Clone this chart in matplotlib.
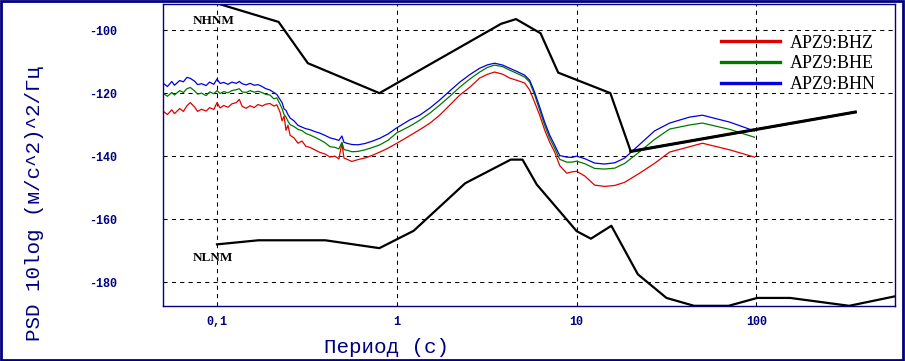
"""
PSD of APZ9 station channels against the Peterson noise models.
"""
import matplotlib
matplotlib.use('Agg')
import matplotlib.pyplot as plt
from matplotlib.patches import Rectangle

plt.rcParams['axes.unicode_minus'] = False
navy = '#000080'

# --- Peterson noise models (period s, dB) ---
nhnmPeriod = [0.1, 0.22, 0.32, 0.8, 3.8, 4.6, 6.3, 7.9, 15.4, 20.0, 354.8]
nhnmDb = [-91.5, -97.4, -110.5, -120.0, -98.0, -96.5, -101.0, -113.5, -120.0, -138.5, -126.0]

nlnmPeriod = [0.1, 0.17, 0.4, 0.8, 1.24, 2.4, 4.3, 5.0, 6.0, 10.0, 12.0, 15.6,
              21.9, 31.6, 45.0, 70.0, 101.0, 154.0, 328.0, 600.0]
nlnmDb = [-168.0, -166.7, -166.7, -169.2, -163.7, -148.6, -141.1, -141.1, -149.0, -163.8,
          -166.2, -162.1, -177.5, -185.0, -187.5, -187.5, -185.0, -185.0, -187.5, -184.4]

# --- Station PSD curves (period s, dB) ---
period = [0.050, 0.053, 0.056, 0.058, 0.062, 0.065, 0.068, 0.071, 0.075, 0.078,
          0.082, 0.087, 0.091, 0.096, 0.100, 0.104, 0.109, 0.115, 0.121, 0.128,
          0.133, 0.138, 0.145, 0.153, 0.161, 0.169, 0.178, 0.187, 0.197, 0.207,
          0.215, 0.224, 0.230, 0.236, 0.242, 0.248, 0.255, 0.268, 0.282, 0.297,
          0.312, 0.329, 0.350, 0.373, 0.398, 0.425, 0.453, 0.476, 0.495, 0.508,
          0.534, 0.562, 0.607, 0.664, 0.726, 0.805, 0.891, 1.00, 1.18, 1.34,
          1.53, 1.73, 1.97, 2.24, 2.55, 2.89, 3.20, 3.50, 3.88, 4.24,
          4.69, 5.14, 5.48, 5.84, 6.23, 6.64, 7.08, 7.55, 8.05, 8.80,
          9.40, 10.0, 11.1, 12.6, 14.3, 16.3, 18.5, 22.4, 27.1, 32.9,
          42.5, 50.1, 71.0, 97.5]

bhz = [-125.7, -126.8, -125.3, -126.5, -124.9, -125.8, -124.0, -123.0, -124.4, -125.8,
       -125.1, -125.7, -124.6, -125.2, -123.0, -124.7, -123.9, -124.5, -123.4, -123.0,
       -122.0, -124.2, -124.8, -124.0, -124.6, -123.6, -124.1, -123.5, -123.3, -124.1,
       -123.7, -126.0, -128.8, -127.3, -131.8, -130.2, -133.4, -134.2, -135.9, -135.2,
       -136.9, -137.2, -138.0, -138.8, -139.3, -140.3, -140.0, -140.9, -135.9, -140.6,
       -141.1, -141.7, -141.1, -140.6, -139.8, -138.7, -137.5, -135.9, -133.5, -131.6,
       -129.5, -127.0, -123.8, -120.6, -118.1, -115.2, -114.0, -113.3, -114.0, -115.2,
       -116.0, -116.8, -119.0, -122.9, -127.0, -131.7, -135.6, -138.7, -143.0, -145.4,
       -145.0, -144.8, -146.3, -149.2, -149.6, -149.3, -148.3, -145.4, -142.3, -138.7,
       -137.0, -135.9, -138.0, -140.3]

bhe = [-120.0, -121.0, -119.8, -120.6, -119.2, -119.8, -118.6, -118.2, -119.3, -120.3,
       -120.0, -120.8, -119.6, -120.2, -119.2, -120.1, -119.5, -119.9, -119.2, -118.9,
       -118.6, -119.6, -119.8, -119.2, -119.7, -119.4, -119.8, -120.4, -120.6, -121.8,
       -121.5, -123.5, -124.9, -126.8, -127.6, -128.9, -130.0, -130.6, -131.5, -131.9,
       -132.8, -133.3, -134.0, -134.8, -135.7, -137.0, -137.2, -137.7, -135.6, -137.9,
       -138.2, -138.6, -138.5, -138.0, -137.3, -136.4, -135.0, -132.6, -130.5, -128.6,
       -126.3, -123.8, -121.0, -118.1, -115.5, -113.3, -111.8, -111.1, -111.6, -112.7,
       -113.8, -114.9, -116.5, -120.6, -125.4, -130.2, -134.3, -137.5, -141.0, -141.9,
       -141.9, -141.6, -142.4, -143.9, -144.1, -143.8, -142.3, -138.6, -134.7, -131.4,
       -130.1, -129.5, -131.5, -134.0]

bhn = [-116.8, -117.9, -116.3, -117.5, -116.0, -116.4, -115.0, -115.3, -116.2, -117.3,
       -117.0, -117.6, -116.5, -117.2, -115.5, -116.9, -116.6, -117.2, -116.5, -116.9,
       -116.3, -117.0, -117.4, -116.9, -117.5, -117.3, -117.9, -118.6, -119.0, -119.8,
       -120.4, -122.0, -123.0, -125.0, -125.5, -126.8, -127.9, -128.8, -130.2, -130.8,
       -131.3, -131.6, -132.2, -132.7, -133.4, -134.2, -134.6, -135.0, -133.6, -135.6,
       -136.0, -136.3, -136.4, -136.0, -135.3, -134.3, -133.0, -131.0, -128.5, -127.0,
       -124.7, -122.2, -119.3, -116.5, -114.1, -112.1, -111.0, -110.5, -111.1, -112.1,
       -113.2, -114.3, -115.9, -119.7, -124.4, -129.2, -133.3, -136.5, -139.8, -140.3,
       -140.4, -140.0, -140.8, -142.2, -142.5, -142.1, -140.6, -136.3, -132.0, -129.5,
       -127.6, -127.0, -129.2, -132.0]

seriesLabels = ['APZ9:BHZ', 'APZ9:BHE', 'APZ9:BHN']
seriesColors = ['#E00000', '#007800', '#0000E0']

xTicks = [0.1, 1, 10, 100]
xTickLabels = ['0,1', '1', '10', '100']
yTicks = [-100, -120, -140, -160, -180]


# --- Plotting ---
fig = plt.figure(figsize=(9.05, 3.61), dpi=100)
ax = fig.add_axes([0.180, 0.152, 0.809, 0.837])

for vals, lab, col in zip([bhz, bhe, bhn], seriesLabels, seriesColors):
    ax.plot(period, vals, color=col, lw=0.9, label=lab)

ax.plot(nhnmPeriod, nhnmDb, color='black', lw=1.6)
ax.plot(nhnmPeriod[-2:], nhnmDb[-2:], color='black', lw=2.2)
ax.plot(nlnmPeriod, nlnmDb, color='black', lw=1.6)

ax.set_xscale('log')
ax.set_xlim(0.05, 590)
ax.set_ylim(-187.6, -91.7)
ax.set_xticks(xTicks)
ax.set_xticklabels(xTickLabels)
ax.minorticks_off()
ax.set_yticks(yTicks)
ax.grid(True, color='black', lw=0.75, ls=(0, (4, 4)))

tickFont = dict(family='Liberation Mono', weight='bold', size=8.5)
for lbl in ax.get_xticklabels() + ax.get_yticklabels():
    lbl.set_fontproperties(tickFont)
    lbl.set_color(navy)
ax.tick_params(axis='both', length=0)
ax.tick_params(axis='y', pad=33)
ax.tick_params(axis='x', pad=7)

for sp in ax.spines.values():
    sp.set_color(navy)
    sp.set_linewidth(1)

labelFont = dict(family='Liberation Mono', size=15, color=navy)
ax.set_ylabel('PSD 10log (м/с^2)^2/Гц', **labelFont)
ax.set_xlabel('Период (с)', **labelFont)
ax.yaxis.set_label_coords(-0.162, 0.341)
ax.xaxis.set_label_coords(0.305, -0.105)

ax.text(0.041, 0.945, 'NHNM', transform=ax.transAxes, family='Liberation Serif',
        weight='bold', size=9.5, va='center')
ax.text(0.041, 0.160, 'NLNM', transform=ax.transAxes, family='Liberation Serif',
        weight='bold', size=9.5, va='center')

ax.legend(loc='upper left', bbox_to_anchor=(0.762, 0.898), frameon=False,
          prop=dict(family='Liberation Serif', size=13), handlelength=3.3,
          handletextpad=0.5, labelspacing=0.2, borderpad=0, borderaxespad=0)
for line in ax.get_legend().get_lines():
    line.set_linewidth(2.4)

fig.patches.append(Rectangle((0.001, 0.002), 0.997, 0.995, transform=fig.transFigure,
                             fill=False, edgecolor=navy, lw=2))

plt.savefig('out.png', dpi=100)
plt.close()
